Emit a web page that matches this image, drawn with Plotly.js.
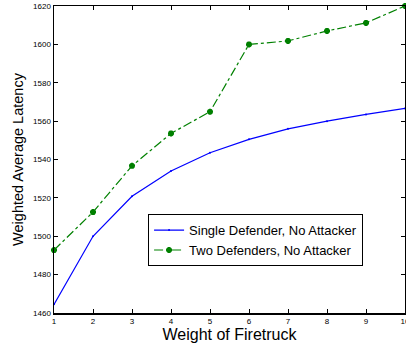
<!DOCTYPE html>
<html><head><meta charset="utf-8">
<script src="https://cdn.plot.ly/plotly-3.0.1.min.js"></script>
<style>html,body{margin:0;padding:0;background:#fff}#chart{width:406px;height:347px}</style>
</head><body><div id="chart"></div>
<script>
const weights = [1,2,3,4,5,6,7,8,9,10];
const singleDefender = [1464.5,1500,1520.8,1534,1543.5,1550.5,1556,1560,1563.5,1566.6];
const twoDefenders = [1492.8,1512.6,1536.7,1553.6,1564.9,1600,1601.8,1607,1611.2,1620];
const yTicks = [1460,1480,1500,1520,1540,1560,1580,1600,1620];

const traces = [
  {x: weights, y: singleDefender, type:'scatter', mode:'lines+markers', name:'Single Defender, No Attacker',
   line:{color:'#0000ff', width:1.2}, marker:{size:2, color:'#0000ff'}, cliponaxis:false},
  {x: weights, y: twoDefenders, type:'scatter', mode:'lines+markers', name:'Two Defenders, No Attacker',
   line:{color:'#008000', width:1.2, dash:'dashdot'}, cliponaxis:false,
   marker:{size:5, color:'#008000', symbol:'asterisk-open', line:{color:'#008000', width:2}}}
];
const ax = {showgrid:false, zeroline:false, showline:true, linecolor:'#000', linewidth:1.5, mirror:'ticks',
  ticks:'inside', ticklen:4, tickcolor:'#000', ticklabeloverflow:'allow',
  tickfont:{family:'Liberation Sans, Arial', size:8, color:'#000'}};
const layout = {
  width:406, height:347, margin:{l:54, r:1, t:6, b:34},
  paper_bgcolor:'#fff', plot_bgcolor:'#fff', showlegend:true,
  xaxis: Object.assign({}, ax, {range:[1,10], tickvals:weights, ticktext:weights.map(String),
    title:{text:'Weight of Firetruck', font:{family:'Liberation Sans, Arial', size:16, color:'#000'}, standoff:2}}),
  yaxis: Object.assign({}, ax, {range:[1460,1620], tickvals:yTicks,
    title:{text:'Weighted Average Latency', font:{family:'Liberation Sans, Arial', size:14.5, color:'#000'}, standoff:6}}),
  legend:{x:0.268, y:0.322, xanchor:'left', yanchor:'top', bgcolor:'#fff', bordercolor:'#000', borderwidth:1,
    font:{family:'Liberation Sans, Arial', size:13, color:'#000'}, tracegroupgap:0, itemwidth:30}
};
Plotly.newPlot('chart', traces, layout, {staticPlot:true, displayModeBar:false});
</script></body></html>
